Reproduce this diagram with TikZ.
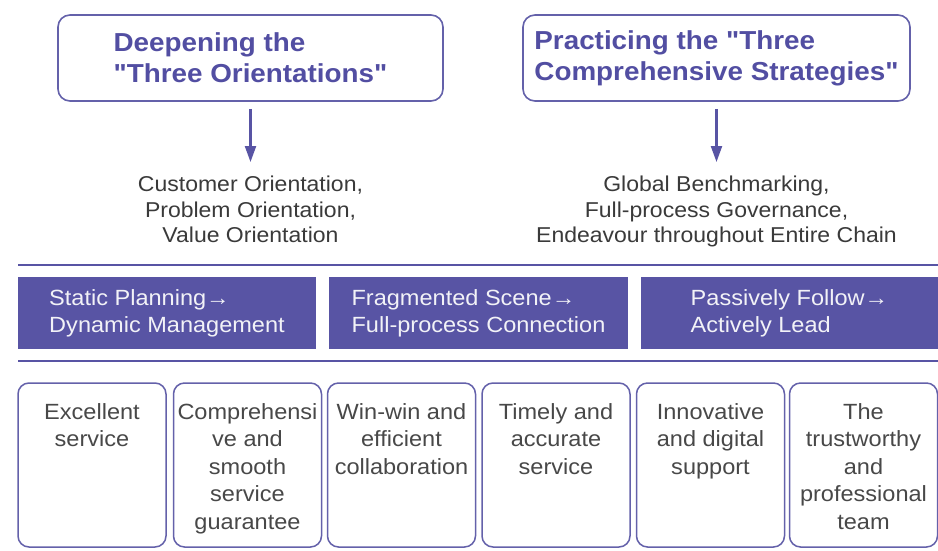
\documentclass[tikz,border=0pt]{standalone}
\usepackage{fontspec}
\setmainfont{Liberation Sans}[FakeStretch=1.07, Ligatures=TeXOff]
\usetikzlibrary{arrows.meta}
\definecolor{pur}{RGB}{88,84,164}
\definecolor{boxc}{RGB}{100,97,170}
\definecolor{titc}{RGB}{82,78,162}
\definecolor{midc}{RGB}{58,58,58}
\definecolor{botc}{RGB}{72,72,72}
\definecolor{bartc}{RGB}{242,242,247}
\begin{document}
\begin{tikzpicture}[x=1pt,y=-1pt,
  titlebox/.style={draw=boxc, line width=1.6pt, rounded corners=12pt,
    minimum height=86pt, align=left, text=titc, inner sep=0pt,
    font=\bfseries\fontsize{26}{31}\selectfont},
  midtext/.style={align=center, text=midc, inner sep=0pt, anchor=north,
    font=\fontsize{21.5}{25.5}\selectfont},
  arr/.style={draw=pur, line width=2.2pt, -{Triangle[length=16pt,width=11pt]}},
  hline/.style={draw=pur, line width=2.8pt},
  bar/.style={fill=pur, minimum height=72pt, align=left, text=bartc, inner sep=0pt,
    font=\fontsize{22}{27}\selectfont},
  cbox/.style={draw=boxc, line width=1.5pt, rounded corners=11pt,
    minimum width=148pt, minimum height=164pt},
  ctext/.style={align=center, text=botc, inner sep=0pt, anchor=north,
    font=\fontsize{22}{27.5}\selectfont}
]
\useasboundingbox[fill=white] (0,0) rectangle (938,551);

% top boxes
\node[titlebox, minimum width=385pt] (t1) at (250.5,58) {Deepening the\\"Three Orientations"};
\node[titlebox, minimum width=387pt] (t2) at (716.5,58) {Practicing the "Three\\Comprehensive Strategies"};

% middle texts
\node[midtext] (m1) at (250.5,176) {Customer Orientation,\\Problem Orientation,\\Value Orientation};
\node[midtext] (m2) at (716.5,176) {Global Benchmarking,\\Full-process Governance,\\Endeavour throughout Entire Chain};

\draw[arr, shorten <=7pt, shorten >=14pt] (t1.south) -- (m1.north);
\draw[arr, shorten <=7pt, shorten >=14pt] (t2.south) -- (m2.north);

% horizontal rules
\coordinate (h1a) at (18,265);
\coordinate (h1b) at (938,265);
\coordinate (h2a) at (18,361);
\coordinate (h2b) at (938,361);
\draw[hline] (h1a) -- (h1b);
\draw[hline] (h2a) -- (h2b);

% bars
\node[bar, minimum width=298pt] (b1) at (167,313) {Static Planning→\\Dynamic Management};
\node[bar, minimum width=299pt] (b2) at (478.5,313) {Fragmented Scene→\\Full-process Connection};
\node[bar, minimum width=297pt] (b3) at (789.5,313) {Passively Follow→\\Actively Lead};

% bottom boxes
\node[cbox] (c1) at (92,465) {};
\node[cbox] (c2) at (247.5,465) {};
\node[cbox] (c3) at (401.5,465) {};
\node[cbox] (c4) at (556,465) {};
\node[cbox] (c5) at (710.5,465) {};
\node[cbox] (c6) at (863.5,465) {};

\node[ctext] (x1) at (92,403) {Excellent\\service};
\node[ctext] (x2) at (247.5,403) {Comprehensi\\ve and\\smooth\\service\\guarantee};
\node[ctext] (x3) at (401.5,403) {Win-win and\\efficient\\collaboration};
\node[ctext] (x4) at (556,403) {Timely and\\accurate\\service};
\node[ctext] (x5) at (710.5,403) {Innovative\\and digital\\support};
\node[ctext] (x6) at (863.5,403) {The\\trustworthy\\and\\professional\\team};
\end{tikzpicture}
\end{document}
